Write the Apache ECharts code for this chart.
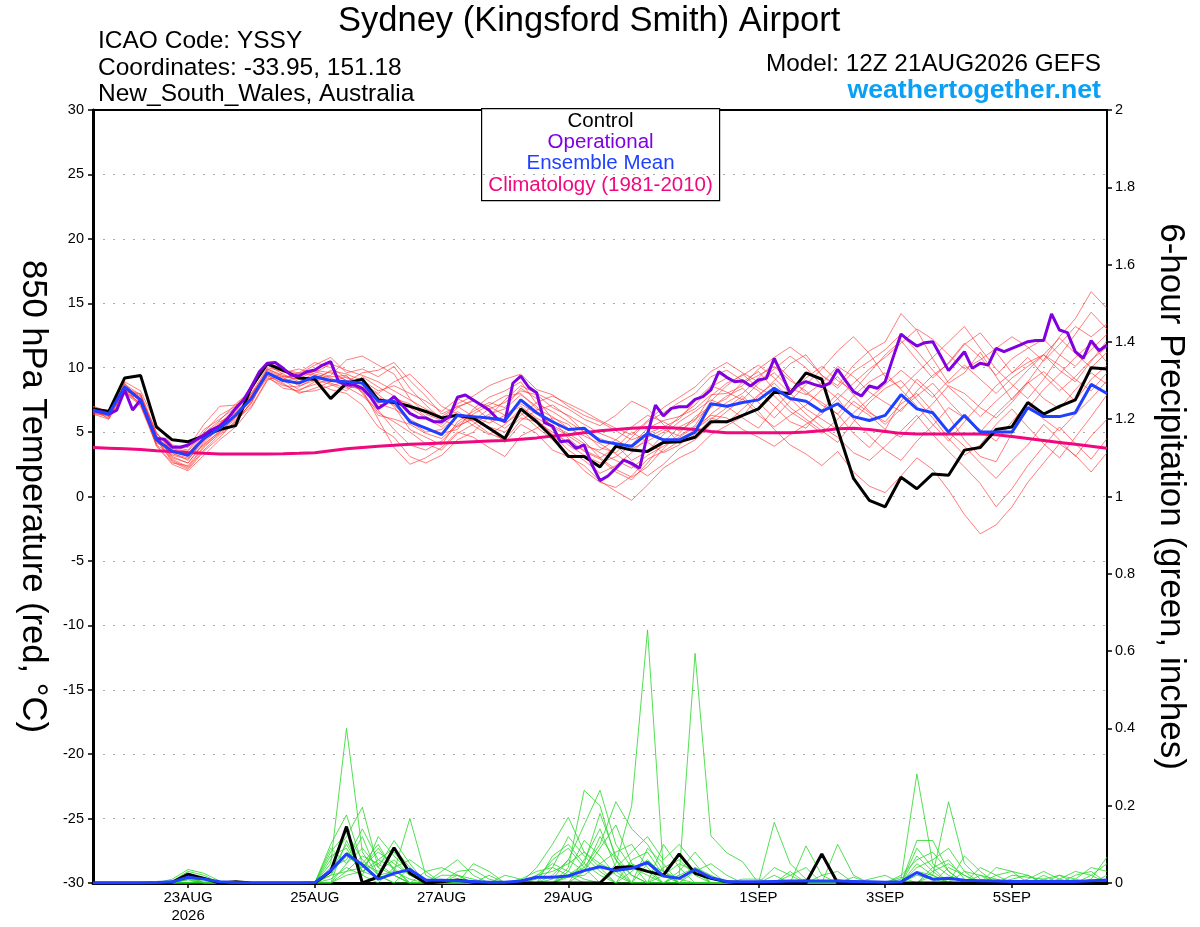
<!DOCTYPE html>
<html>
<head>
<meta charset="utf-8">
<title>Sydney (Kingsford Smith) Airport</title>
<script src="https://cdn.jsdelivr.net/npm/echarts@6/dist/echarts.min.js"></script>
<style>
  html, body { margin: 0; padding: 0; background: #fff; }
  #chart { width: 1200px; height: 927px; }
</style>
</head>
<body>
<div id="chart"></div>
<script>
// x axis: hours after 12Z 21AUG2026
var tickHours = [36, 84, 132, 180, 252, 300, 348];
var tickLabels = ['23AUG\n2026', '25AUG', '27AUG', '29AUG', '1SEP', '3SEP', '5SEP'];

// 850 hPa temperature, 6-hourly (degC)
var controlTemp = [
  6.8, 6.6, 9.2, 9.4, 5.4, 4.4, 4.25, 4.7, 5.2, 5.5,
  8.5, 10.3, 9.8, 9.2, 9.1, 7.6, 8.8, 9.1, 7.5, 7.3,
  7.0, 6.6, 6.1, 6.3, 6.1, 5.3, 4.5, 6.8, 5.8, 4.6,
  3.1, 3.1, 2.3, 3.9, 3.6, 3.5, 4.2, 4.25, 4.6, 5.8,
  5.8, 6.3, 6.8, 8.1, 8.0, 9.6, 9.1, 5.2, 1.4, -0.3,
  -0.8, 1.5, 0.6, 1.75, 1.65, 3.6, 3.8, 5.2, 5.4, 7.3,
  6.4, 7.0, 7.5, 10.0, 9.9
];
var meanTemp = [
  6.7, 6.4, 8.5, 7.5, 4.4, 3.5, 3.2, 4.5, 5.3, 6.3,
  7.6, 9.6, 9.0, 8.8, 9.3, 9.0, 8.9, 8.8, 7.4, 7.4,
  5.8, 5.3, 4.8, 6.3, 6.2, 6.1, 5.9, 7.5, 6.5, 5.8,
  5.2, 5.3, 4.3, 4.1, 3.9, 4.9, 4.4, 4.4, 5.0, 7.2,
  7.0, 7.3, 7.5, 8.4, 7.6, 7.4, 6.6, 7.2, 6.2, 5.9,
  6.3, 7.9, 6.8, 6.5, 5.0, 6.3, 5.0, 5.0, 5.0, 6.9,
  6.2, 6.2, 6.5, 8.7, 8.0
];
var climoTemp = [
  3.8, 3.75, 3.7, 3.65, 3.55, 3.5, 3.42, 3.35, 3.3, 3.3,
  3.3, 3.3, 3.32, 3.35, 3.4, 3.55, 3.7, 3.8, 3.9, 3.97,
  4.05, 4.1, 4.15, 4.2, 4.25, 4.3, 4.35, 4.45, 4.55, 4.7,
  4.8, 4.95, 5.1, 5.2, 5.3, 5.35, 5.35, 5.3, 5.2, 5.05,
  4.95, 4.95, 4.95, 4.95, 4.95, 5.0, 5.1, 5.25, 5.3, 5.2,
  5.05, 4.9, 4.85, 4.85, 4.85, 4.85, 4.85, 4.8, 4.65, 4.5,
  4.35, 4.2, 4.05, 3.9, 3.75
];
// operational run, 3-hourly
var operTemp = [
  6.66, 6.58, 6.4, 6.71, 8.27, 6.71, 7.49, 5.93, 4.5, 4.45,
  3.82, 3.82, 4.0, 4.39, 4.78, 5.2, 5.47, 6.06, 6.84, 7.49,
  8.52, 9.69, 10.34, 10.4, 9.95, 9.43, 9.35, 9.69, 9.82, 10.2,
  10.47, 8.92, 8.66, 8.66, 8.4, 7.75, 6.84, 7.23, 7.75, 7.1,
  6.45, 6.14, 6.1, 5.81, 5.81, 6.19, 7.7, 7.88, 7.49, 7.1,
  6.71, 6.06, 5.81, 8.79, 9.35, 8.48, 8.06, 5.73, 5.47, 4.25,
  4.33, 3.74, 4.0, 2.45, 1.23, 1.59, 2.19, 2.83, 2.57, 2.19,
  4.85, 7.1, 6.25, 6.84, 6.97, 6.97, 7.54, 7.75, 8.27, 9.69,
  9.25, 8.91, 8.99, 8.58, 9.04, 9.17, 10.73, 9.4, 8.01, 8.66,
  8.92, 8.7, 8.53, 8.79, 9.87, 9.0, 8.14, 7.8, 8.58, 8.4,
  8.92, 10.8, 12.61, 12.1, 11.68, 11.94, 12.02, 10.9, 9.77, 10.5,
  11.24, 9.95, 10.34, 10.2, 11.5, 11.24, 11.5, 11.75, 12.02, 12.1,
  12.1, 14.17, 12.92, 12.72, 11.24, 10.73, 12.1, 11.32, 11.76
];
// ensemble members, 6-hourly
var memberTemps = [
  [6.9,6.2,8.7,7.9,4.8,3.0,2.6,4.1,5.0,6.0, 7.2,9.9,9.4,9.1,9.8,9.6,9.0,8.1,6.5,5.8, 5.0,4.1,3.6,4.9,5.6,6.4,6.8,7.9,7.0,5.2, 4.0,3.2,2.6,3.1,4.0,5.3,5.9,6.2,7.1,8.5, 9.2,8.8,9.4,10.1,9.0,8.2,7.1,6.4,4.9,3.8, 5.2,7.4,9.1,8.0,6.2,4.4,3.1,2.7,4.9,6.8,8.3,9.5,10.8,11.9,10.4],
  [6.5,6.6,8.2,7.2,4.1,3.9,3.6,5.2,6.0,6.9, 8.0,10.0,9.7,9.5,10.2,10.8,9.6,9.9,9.3,10.1, 8.4,7.1,6.0,5.4,6.1,5.3,4.2,5.6,4.9,3.6, 3.1,2.4,1.2,0.4,-0.3,0.9,2.2,3.0,3.6,4.8, 5.5,6.2,7.8,9.0,10.3,11.0,9.4,8.6,10.2,11.3, 12.0,14.2,12.9,10.7,8.8,9.6,11.2,9.3,7.5,8.9,10.6,12.4,13.8,15.9,14.6],
  [6.8,6.0,8.9,8.2,5.6,4.0,3.8,5.6,7.0,7.1, 7.8,9.3,8.4,8.2,8.9,8.3,8.0,7.1,5.4,4.6, 3.1,2.6,3.2,4.4,5.0,6.2,7.5,8.6,8.0,7.4, 6.8,6.0,5.5,6.3,7.4,6.8,5.6,4.1,4.8,6.0, 6.9,7.8,6.6,5.2,4.0,3.3,2.4,3.5,1.9,0.8, 0.3,1.6,3.0,2.1,0.5,-1.4,-2.9,-2.2,-0.8,1.1,2.6,4.1,3.2,1.9,3.4],
  [6.4,6.3,8.0,7.6,4.4,2.8,2.2,3.6,4.8,5.7, 7.4,9.8,9.2,8.6,9.0,9.4,10.6,10.9,10.2,9.5, 7.6,6.4,5.9,7.2,7.8,8.6,9.1,9.5,8.3,7.9, 7.0,6.3,5.8,5.1,4.4,4.9,5.4,6.0,7.4,8.6, 8.1,7.5,8.8,9.6,8.4,7.9,8.8,10.1,9.3,8.1, 7.3,6.6,8.2,9.4,10.3,11.8,12.7,11.2,9.6,10.4,11.0,9.8,8.9,10.5,12.1],
  [7.0,6.5,8.6,7.4,3.9,2.5,2.0,3.2,4.4,5.4, 6.9,9.0,9.6,9.9,9.5,9.2,8.6,8.3,6.0,3.8, 2.5,3.0,3.8,5.0,4.6,3.8,3.1,4.7,5.3,6.1, 5.6,4.3,3.0,2.1,1.5,2.3,3.7,4.9,6.2,7.0, 7.6,8.9,9.7,8.3,6.9,6.0,5.1,4.2,5.8,7.3, 8.4,9.0,7.5,6.1,4.5,3.2,4.0,5.6,6.8,5.4,4.1,3.0,4.6,6.2,7.9],
  [6.6,6.1,8.3,7.7,4.6,3.6,3.3,4.9,5.9,7.2, 8.2,10.4,9.9,9.3,9.1,8.7,8.2,9.3,8.5,7.8, 6.9,6.1,5.4,6.6,5.8,4.9,4.4,5.9,6.7,7.1, 6.2,5.0,3.8,3.4,4.6,5.8,6.5,7.3,8.0,9.3, 9.8,9.0,8.2,7.0,5.8,5.3,6.7,8.0,7.1,6.3, 5.2,4.6,6.0,7.2,8.6,8.0,6.9,6.1,7.3,8.8,9.7,8.6,7.4,9.1,10.2],
  [6.7,6.7,8.5,7.0,4.0,3.2,2.9,4.3,5.5,6.6, 7.7,9.4,8.8,8.0,8.4,8.9,9.3,8.7,7.9,7.0, 5.2,4.6,4.0,5.8,6.6,7.3,6.9,8.4,7.6,6.0, 4.5,3.5,2.9,1.9,1.3,2.6,4.2,5.4,6.0,6.9, 7.8,8.4,7.3,6.1,7.4,8.7,9.9,11.3,12.4,11.1, 9.3,8.4,9.6,10.8,12.0,13.2,11.5,9.9,8.7,7.6,9.1,10.9,12.6,14.3,13.0],
  [6.5,6.4,8.1,8.0,5.0,3.4,2.8,4.6,5.8,6.4, 7.9,9.7,9.1,9.6,10.4,10.0,9.2,8.8,8.0,8.9, 9.5,8.3,7.0,6.4,5.5,4.8,5.6,6.8,6.0,4.8, 3.6,2.8,1.8,2.4,3.4,4.6,5.2,4.7,5.5,7.4, 8.6,9.5,8.4,7.8,6.6,5.8,4.9,6.0,7.4,6.5, 5.8,7.2,8.0,6.6,5.0,3.9,2.6,1.4,2.8,4.0,5.6,4.4,3.1,4.7,6.0],
  [6.9,6.3,8.8,7.3,4.3,3.3,3.0,4.0,5.1,6.1, 7.5,9.2,8.6,8.5,9.2,9.7,9.0,8.4,7.2,6.8, 6.0,5.3,4.9,5.2,6.8,7.7,8.2,8.9,7.2,6.6, 5.8,5.0,4.5,4.0,2.8,3.5,4.8,5.8,6.6,7.5, 7.0,6.1,5.3,6.8,8.1,9.2,10.1,9.0,8.2,9.6, 11.0,12.1,10.6,9.2,10.4,11.9,10.8,9.4,10.7,11.5,12.2,11.0,10.1,11.4,12.6],
  [6.6,6.6,8.4,7.8,4.9,3.7,3.5,5.0,6.3,7.0, 8.4,10.2,9.5,8.9,9.6,10.3,9.8,9.4,8.9,8.2, 7.5,6.8,6.2,7.0,7.4,7.0,6.3,7.2,6.4,5.5, 4.9,4.1,3.4,2.8,2.2,3.2,3.9,4.6,5.4,6.3, 6.1,5.2,4.6,3.9,4.8,5.6,6.4,7.6,6.0,4.7, 3.6,2.8,4.3,5.5,6.9,6.1,5.0,6.4,7.6,8.9,7.6,6.8,8.3,9.6,8.7],
  [6.8,6.4,8.6,7.5,4.5,2.9,2.3,3.8,5.0,6.2, 7.6,9.5,9.0,8.3,8.7,9.1,8.5,7.8,6.7,5.2, 4.0,3.6,4.3,5.5,6.0,5.4,5.0,6.1,5.8,5.0, 4.2,3.6,3.0,3.8,5.0,4.2,3.4,4.0,5.1,6.4, 7.3,8.0,9.2,10.4,9.2,8.0,7.3,6.4,7.8,8.9, 9.6,8.3,7.0,5.6,4.3,5.8,7.2,8.6,9.6,10.8,9.4,8.2,9.3,10.6,11.6],
  [6.7,6.2,8.0,7.1,4.2,3.6,3.3,4.7,5.6,6.5, 7.8,9.9,9.3,9.1,9.3,8.8,8.4,8.6,7.3,7.6, 7.2,6.2,5.6,6.9,7.5,6.6,5.7,6.5,5.4,4.4, 3.3,2.0,1.1,0.7,1.6,2.9,3.5,4.3,5.2,6.1, 5.7,6.8,7.9,8.8,7.6,6.4,5.4,4.6,3.4,2.8, 3.9,5.1,6.3,4.8,3.5,2.3,1.0,-0.8,0.6,2.4,3.9,5.4,4.1,2.9,4.5],
  [6.6,6.5,8.7,7.6,4.7,3.1,2.6,4.2,5.3,6.7, 8.0,9.6,9.0,9.2,9.0,9.8,9.5,9.0,8.2,8.6, 8.0,7.4,6.6,7.6,7.0,6.0,5.3,6.3,7.3,7.8, 7.2,6.6,5.9,5.3,4.8,5.9,6.9,7.7,8.5,9.7, 10.4,9.6,8.9,9.9,10.9,10.0,8.6,7.6,8.8,9.9, 10.8,11.9,13.0,12.2,11.0,9.9,10.6,11.5,12.4,11.6,10.5,11.8,13.2,12.4,13.4],
  [6.5,6.3,8.3,7.4,4.4,2.7,2.1,3.5,4.6,5.9, 7.0,9.1,9.3,9.4,9.7,9.3,9.4,8.0,6.3,6.0, 5.6,4.9,4.5,5.6,6.4,7.1,7.8,8.0,6.8,6.2, 5.3,4.7,4.1,3.3,2.4,1.6,2.5,3.7,4.4,5.6, 6.6,7.6,6.3,5.4,6.3,7.1,8.3,9.3,7.9,6.6, 5.6,6.8,7.8,8.8,7.4,6.1,5.2,4.3,5.8,7.2,6.0,5.1,6.4,7.6,9.0],
  [7.0,6.6,8.5,7.9,4.9,3.6,3.1,4.4,5.7,6.8, 8.3,10.3,9.8,9.6,9.4,9.0,8.9,9.6,9.8,10.4, 9.0,7.8,6.4,7.0,6.2,5.7,6.3,7.0,6.1,5.4, 4.7,3.9,3.6,4.4,5.4,6.3,5.8,5.1,5.9,7.8, 8.8,9.4,10.2,9.2,8.0,6.8,6.0,5.2,6.5,7.6, 8.7,9.8,8.8,7.7,9.0,10.2,9.1,8.0,9.2,10.1,11.0,12.3,11.1,10.0,11.2],
  [6.4,6.0,8.0,7.3,4.0,2.6,2.4,3.9,4.9,5.8, 7.3,9.4,8.7,8.1,8.2,8.6,8.9,8.2,7.7,7.1, 5.8,5.0,5.2,6.2,5.9,6.8,7.3,8.2,7.9,6.9, 6.3,5.6,4.9,4.4,3.7,4.3,5.0,6.2,6.8,7.9, 8.0,8.6,9.9,10.8,11.6,10.7,9.4,8.4,9.7,10.5, 11.4,12.6,11.3,9.8,8.5,7.4,6.2,7.4,8.5,9.8,11.0,10.2,9.1,8.2,9.6]
];

// 6-hour precipitation (inches)
var controlPrecip = [
  0, 0, 0, 0, 0, .002, .023, .012, 0, .003,
  0, 0, 0, 0, 0, .03, .146, 0, .016, .091,
  .025, 0, .003, .008, .002, 0, 0, 0, 0, 0,
  0, 0, 0, .04, .042, .03, .02, .075, .025, .012,
  .003, 0, 0, 0, 0, 0, .075, 0, 0, 0,
  0, 0, 0, 0, 0, 0, 0, 0, 0, 0,
  0, 0, 0, 0, 0
];
var meanPrecip = [
  0, 0, 0, 0, .001, .003, .015, .01, .003, .001,
  0, 0, 0, 0, .001, .032, .075, .047, .01, .025,
  .035, .008, .007, .006, .004, .002, .002, .005, .015, .015,
  .018, .032, .042, .032, .038, .053, .018, .012, .035, .014,
  .004, .003, .003, .004, .005, .005, .005, .005, .004, .003,
  .002, .003, .027, .01, .012, .007, .006, .005, .004, .004,
  .004, .004, .004, .006, .008
];
var memberPrecip = [
  [0,0,0,0,0,.01,.035,.025,.005,0, 0,0,0,0,0,.05,.40,.08,.02,.03, .01,0,0,0,0,0,0,0,.02,.05, .03,.01,0,.05,.2,.655,.03,.01,0,0, 0,0,0,0,.005,0,0,0,0,0, 0,0,.02,.01,0,0,0,0,0,0, .01,.02,.01,0,0],
  [0,0,0,0,0,0,.02,.015,0,0, 0,0,0,0,0,.1,.176,.05,.03,.06, .02,.01,0,0,0,0,0,0,0,.02, .06,.15,.24,.1,.04,.02,0,.02,.594,.122, .078,.055,0,0,0,0,0,0,0,0, 0,.01,.282,.05,.02,0,0,0,0,0, 0,0,0,.01,.067],
  [0,0,0,0,0,.005,.03,.02,0,0, 0,0,0,0,0,.06,.12,.196,.04,.02, 0,0,.03,.06,.02,0,0,0,0,0, .02,.04,.1,.21,.14,.1,.03,0,0,0, 0,0,0,.157,.05,.01,0,0,0,0, 0,0,0,.02,.21,.05,.01,0,0,0, 0,0,0,0,0],
  [0,0,0,0,0,0,.015,0,0,0, 0,0,0,0,0,.02,.08,.05,.1,.03, .167,.02,0,0,0,0,0,0,.04,.1, .17,.08,.05,.03,0,0,.1,.04,0,0, 0,0,0,0,0,.096,.02,0,0,0, 0,0,.11,.11,.03,0,0,.04,.03,.02, 0,0,0,0,0],
  [0,0,0,0,0,0,0,.01,0,0, 0,0,0,0,0,.03,.1,.03,.06,.09, .04,0,0,.03,.035,.01,0,0,0,0, .04,.24,.2,.06,.02,0,0,0,.04,.02, 0,0,0,0,0,0,0,.1,.02,0, 0,.02,.06,.08,.03,0,0,0,.02,.015, .01,0,0,0,0],
  [0,0,0,0,0,0,.01,0,0,0, 0,0,0,0,0,0,.05,.09,.04,.11, .05,0,0,0,0,0,0,.01,.03,.04, .02,0,0,.04,.08,.12,.06,.1,.05,0, 0,0,0,0,.02,.04,0,0,0,0, 0,0,0,0,0,.07,.03,0,0,0, 0,.01,.03,.02,0],
  [0,0,0,0,0,.005,.02,0,0,0, 0,0,0,0,0,.08,.13,.06,.02,0, 0,.03,.04,.02,0,0,0,0,0,.07, .1,.05,.02,0,0,.05,.03,0,0,0, 0,0,0,.04,.02,0,0,0,0,0, 0,0,.04,.06,.09,.03,0,0,0,0, .02,0,0,0,0],
  [0,0,0,0,0,0,.01,.01,0,0, 0,0,0,0,0,.04,.06,.14,.06,.04, 0,0,0,0,.05,.03,0,0,0,0, 0,.03,.09,.15,.05,0,0,.03,.08,.03, 0,0,0,0,0,0,0,0,0,.01, .02,0,0,0,0,0,.02,.01,0,0, 0,0,0,.02,.05],
  [0,0,0,0,0,0,0,0,0,0, 0,0,0,0,0,0,.03,.04,.08,.05, .02,0,0,0,0,0,0,0,.02,.03, .05,.08,.04,0,.03,.06,.02,0,0,0, 0,.01,.01,0,0,0,0,0,0,0, 0,0,.03,.02,0,0,0,0,.01,.02, 0,0,0,0,0],
  [0,0,0,0,0,0,.008,0,0,0, 0,0,0,0,0,.01,.04,.02,.12,.07, .03,0,0,0,0,0,.02,.01,0,0, .03,.11,.07,.02,0,0,.04,.06,.02,0, 0,0,0,0,0,.01,0,0,0,0, 0,0,0,.03,.05,.02,0,0,0,0, 0,.02,0,0,0],
  [0,0,0,0,0,.005,.025,.01,0,0, 0,0,0,0,0,.07,.09,.02,0,.04, .06,.03,0,0,0,0,0,0,0,.01, .06,.03,.12,.06,0,.09,.05,0,0,0, 0,0,0,0,0,0,.02,.03,0,0, 0,0,.05,.02,0,0,0,0,0,.01, .03,.01,0,0,0],
  [0,0,0,0,0,0,0,0,0,0, 0,0,0,0,0,0,.02,.03,.05,.02, 0,0,0,.02,.01,0,0,0,0,0, .015,.02,.05,.08,.1,.04,0,0,.03,.05, .02,0,0,0,0,0,0,0,0,0, 0,.015,0,0,.04,.02,0,0,0,0, 0,0,.02,.03,0],
  [0,0,0,0,0,0,.012,.01,0,0, 0,0,0,0,0,.09,.05,.12,.02,0, .04,0,0,0,0,0,0,0,.01,.06, .09,.04,0,.03,.05,.03,0,0,0,0, 0,0,0,0,0,0,0,0,.015,0, 0,0,.07,.03,0,0,0,.02,.03,0, 0,0,0,0,0],
  [0,0,0,0,0,0,0,0,0,0, 0,0,0,0,0,.03,.07,.04,.09,.035, 0,0,.02,.02,0,0,0,0,0,0, 0,.06,.14,.04,0,0,.02,.05,.03,0, 0,0,0,.02,0,0,0,0,0,0, 0,0,0,.04,.06,.01,0,0,0,0, 0,0,.01,.04,.03],
  [0,0,0,0,0,0,.02,0,0,0, 0,0,0,0,0,0,.11,.03,.015,.02, 0,0,0,0,0,0,0,0,0,.04, .12,.07,.03,0,.06,.08,.02,0,0,0, 0,0,0,0,.03,0,0,0,0,0, 0,0,.09,.04,0,0,.04,.02,0,0, 0,0,0,0,0],
  [0,0,0,0,0,0,0,.005,0,0, 0,0,0,0,0,.02,.03,.07,.05,.08, .03,0,0,0,0,.02,0,0,0,0, .02,.05,.18,.07,.02,0,0,.02,.04,0, 0,0,0,0,0,0,0,.01,0,0, 0,0,0,0,0,.03,.02,0,0,0, 0,0,0,0,.02]
];

var FONT = 'Liberation Sans, Arial, sans-serif';
var COL_CONTROL = '#000000';
var COL_OPER = '#8000e0';
var COL_MEAN = '#2040ff';
var COL_CLIMO = '#f0087f';

function pairs(values, step) {
  return values.map(function(v, i) { return [i * step, v]; });
}

function line(name, data, color, width, yIdx) {
  return {
    name: name,
    type: 'line',
    yAxisIndex: yIdx,
    data: data,
    symbol: 'none',
    silent: true,
    lineStyle: { color: color, width: width },
    animation: false
  };
}

var series = [];
memberTemps.forEach(function(cur, idx) {
  series.push(line('T member ' + (idx + 1), pairs(cur, 6), 'rgba(255,50,50,0.8)', 0.8, 0));
});
memberPrecip.forEach(function(cur, idx) {
  series.push(line('P member ' + (idx + 1), pairs(cur, 6), 'rgb(40,215,40)', 0.8, 1));
});
series.push(line('Climatology (1981-2010)', pairs(climoTemp, 6), COL_CLIMO, 3, 0));
series.push(line('Control', pairs(controlTemp, 6), COL_CONTROL, 3, 0));
series.push(line('Operational', pairs(operTemp, 3), COL_OPER, 3, 0));
series.push(line('Ensemble Mean', pairs(meanTemp, 6), COL_MEAN, 3, 0));
series.push(line('Control precip', pairs(controlPrecip, 6), COL_CONTROL, 3, 1));
series.push(line('Mean precip', pairs(meanPrecip, 6), COL_MEAN, 3, 1));

var chart = echarts.init(document.getElementById('chart'));
chart.setOption({
  animation: false,
  backgroundColor: '#fff',
  textStyle: { fontFamily: FONT },
  title: [{
    text: 'Sydney (Kingsford Smith) Airport',
    left: 333,
    top: -1,
    textStyle: { fontSize: 34.5, fontWeight: 'normal', color: '#000', fontFamily: FONT }
  }, {
    text: 'ICAO Code: YSSY\nCoordinates: -33.95, 151.18\nNew_South_Wales, Australia',
    left: 93,
    top: 23,
    textStyle: { fontSize: 24.5, lineHeight: 26.5, fontWeight: 'normal', color: '#000', fontFamily: FONT }
  }, {
    text: 'Model: 12Z 21AUG2026 GEFS',
    right: 94,
    top: 47,
    textStyle: { fontSize: 24.3, fontWeight: 'normal', color: '#000', fontFamily: FONT }
  }, {
    text: 'weathertogether.net',
    right: 94,
    top: 72,
    textStyle: { fontSize: 26.7, fontWeight: 'bold', color: '#0aa0f5', fontFamily: FONT }
  }],
  grid: {
    left: 93, right: 93, top: 110, bottom: 44,
    show: true, borderColor: '#000', borderWidth: 2, backgroundColor: 'transparent'
  },
  xAxis: {
    type: 'value',
    min: 0,
    max: 384,
    axisLine: { show: true, onZero: false, lineStyle: { color: '#000', width: 3 } },
    axisTick: { show: true, customValues: tickHours, length: 5, lineStyle: { color: '#000', width: 1.5 } },
    axisLabel: {
      customValues: tickHours,
      color: '#000', fontSize: 15, lineHeight: 18, margin: 6, fontFamily: FONT,
      formatter: function(v) {
        var k = tickHours.indexOf(v);
        return k >= 0 ? tickLabels[k] : '';
      }
    },
    splitLine: { show: false }
  },
  yAxis: [{
    type: 'value',
    min: -30,
    max: 30,
    interval: 5,
    position: 'left',
    name: '850 hPa Temperature (red, \u00B0C)',
    nameLocation: 'middle',
    nameRotate: -90,
    nameGap: 43,
    nameTextStyle: { fontSize: 34.6, color: '#000', fontFamily: FONT },
    axisLine: { show: true, onZero: false, lineStyle: { color: '#000', width: 3 } },
    axisTick: { show: true, length: 5, lineStyle: { color: '#000', width: 1.5 } },
    axisLabel: { color: '#000', fontSize: 14.5, margin: 9, fontFamily: FONT },
    splitLine: {
      show: true, showMinLine: false, showMaxLine: false,
      lineStyle: { color: '#aaaaaa', width: 1, type: [2, 8] }
    }
  }, {
    type: 'value',
    min: 0,
    max: 2,
    interval: 0.2,
    position: 'right',
    name: '6-hour Precipitation (green, inches)',
    nameLocation: 'middle',
    nameRotate: -90,
    nameGap: 46,
    nameTextStyle: { fontSize: 35, color: '#000', fontFamily: FONT },
    axisLine: { show: true, onZero: false, lineStyle: { color: '#000', width: 2 } },
    axisTick: { show: true, length: 5, lineStyle: { color: '#000', width: 1.5 } },
    axisLabel: { color: '#000', fontSize: 14.5, margin: 8, fontFamily: FONT },
    splitLine: { show: false }
  }],
  graphic: [{
    type: 'group',
    left: 481,
    top: 108,
    z: 100,
    children: [{
      type: 'rect',
      shape: { x: 0, y: 0, width: 238, height: 92 },
      style: { fill: '#fff', stroke: '#000', lineWidth: 1.2 }
    }, {
      type: 'text', x: 119, y: 13,
      style: { text: 'Control', fill: COL_CONTROL, font: '20.5px ' + FONT, textAlign: 'center', textVerticalAlign: 'middle' }
    }, {
      type: 'text', x: 119, y: 34,
      style: { text: 'Operational', fill: COL_OPER, font: '20.5px ' + FONT, textAlign: 'center', textVerticalAlign: 'middle' }
    }, {
      type: 'text', x: 119, y: 55,
      style: { text: 'Ensemble Mean', fill: COL_MEAN, font: '20.5px ' + FONT, textAlign: 'center', textVerticalAlign: 'middle' }
    }, {
      type: 'text', x: 119, y: 77,
      style: { text: 'Climatology (1981-2010)', fill: COL_CLIMO, font: '20.5px ' + FONT, textAlign: 'center', textVerticalAlign: 'middle' }
    }]
  }],
  series: series
});
</script>
</body>
</html>
